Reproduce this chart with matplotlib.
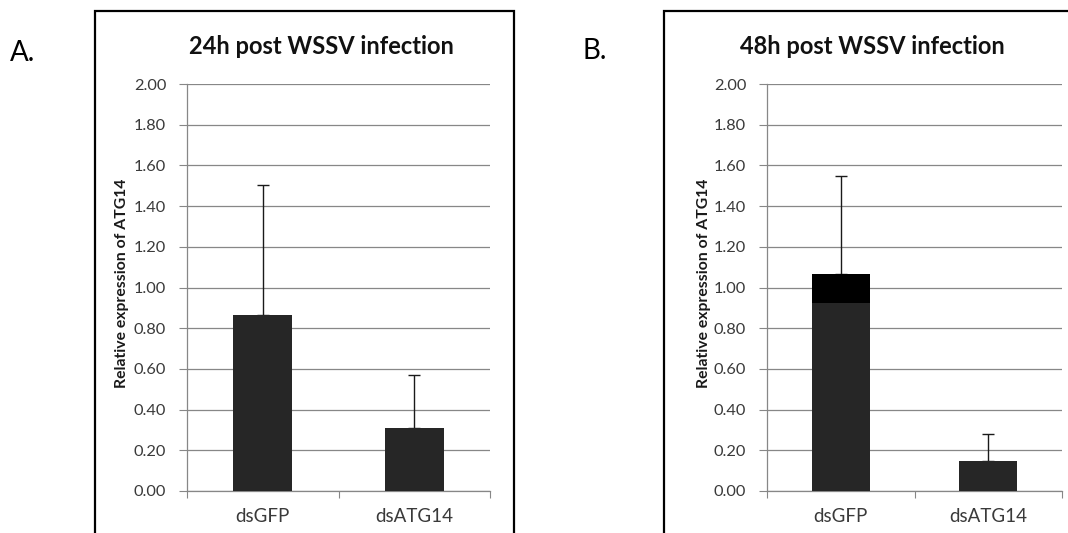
import matplotlib
matplotlib.use("Agg")
import matplotlib.pyplot as plt
from matplotlib.patches import Rectangle

plt.rcParams['font.family'] = ['Lato', 'DejaVu Sans']

# data
groups = ['dsGFP', 'dsATG14']
mean_24h = [0.865, 0.31]
err_24h = [0.64, 0.26]
mean_48h = [0.925, 0.147]
top_48h = [0.141, 0.0]      # darker cap on the dsGFP bar
err_48h = [0.48, 0.133]
yticks = [0.0, 0.2, 0.4, 0.6, 0.8, 1.0, 1.2, 1.4, 1.6, 1.8, 2.0]

W, H = 1068, 533
fig = plt.figure(figsize=(W / 100, H / 100), dpi=100)

grid_c = '#878787'
bar_c = '#262626'
txt_c = '#3a3a3a'


def px(x0, y0, x1, y1):
    # pixel box -> figure fraction [left, bottom, width, height]
    return [x0 / W, 1 - y1 / H, (x1 - x0) / W, (y1 - y0) / H]


def panel(rect, means, errs, title, title_x, extra=None):
    ax = fig.add_axes(rect)
    x = [0, 1]
    ax.bar(x, means, width=0.39, color=bar_c, zorder=3)
    tops = list(means)
    if extra is not None:
        ax.bar(x, extra, width=0.39, bottom=means, color='black', zorder=3)
        tops = [m + e for m, e in zip(means, extra)]
    ax.errorbar(x, tops, yerr=[[0, 0], errs], fmt='none', ecolor='#1a1a1a',
                elinewidth=1, capsize=4, capthick=1, zorder=2)
    ax.set_xlim(-0.5, 1.5)
    ax.set_ylim(0, 2.0)
    ax.set_yticks(yticks)
    ax.set_yticklabels(['%.2f' % v for v in yticks], fontsize=11.8, color=txt_c)
    ax.yaxis.grid(True, color=grid_c, linewidth=0.9, zorder=0)
    ax.set_axisbelow(True)
    ax.set_xticks([-0.5, 0.5, 1.5])
    ax.set_xticklabels([])
    ax.set_xticks(x, minor=True)
    ax.set_xticklabels(groups, minor=True, fontsize=13.5, color=txt_c)
    ax.tick_params(axis='x', which='minor', length=0, pad=12)
    ax.tick_params(axis='x', which='major', length=5, color=grid_c, direction='out')
    ax.tick_params(axis='y', length=6, color=grid_c, pad=9)
    for s in ['top', 'right']:
        ax.spines[s].set_visible(False)
    for s in ['left', 'bottom']:
        ax.spines[s].set_color(grid_c)
        ax.spines[s].set_linewidth(0.9)
    ax.set_ylabel('Relative expression of ATG14', fontsize=11.3, fontweight='bold',
                  color='#1a1a1a')
    ax.yaxis.set_label_coords(-0.19, 0.51)
    fig.text(title_x / W, 1 - 47 / H, title, fontsize=17, fontweight='bold',
             color='#111111', ha='center', va='center')
    return ax


panel(px(187, 84, 490, 491), mean_24h, err_24h, '24h post WSSV infection', 321)
panel(px(767, 84, 1062, 491), mean_48h, err_48h, '48h post WSSV infection', 872,
      top_48h)

# outer frames around each chart (running off the page edge)
fig.patches.append(Rectangle((95 / W, -0.05), (514 - 95) / W, 1.05 - 11 / H,
                             transform=fig.transFigure, fill=False,
                             edgecolor='black', linewidth=1.6))
fig.patches.append(Rectangle((664 / W, -0.05), 0.5, 1.05 - 11 / H,
                             transform=fig.transFigure, fill=False,
                             edgecolor='black', linewidth=1.6))

fig.text(10 / W, 1 - 53 / H, 'A.', fontsize=20, va='center', ha='left')
fig.text(583 / W, 1 - 51 / H, 'B.', fontsize=20, va='center', ha='left')

fig.savefig('out.png', dpi=100, facecolor='white')
